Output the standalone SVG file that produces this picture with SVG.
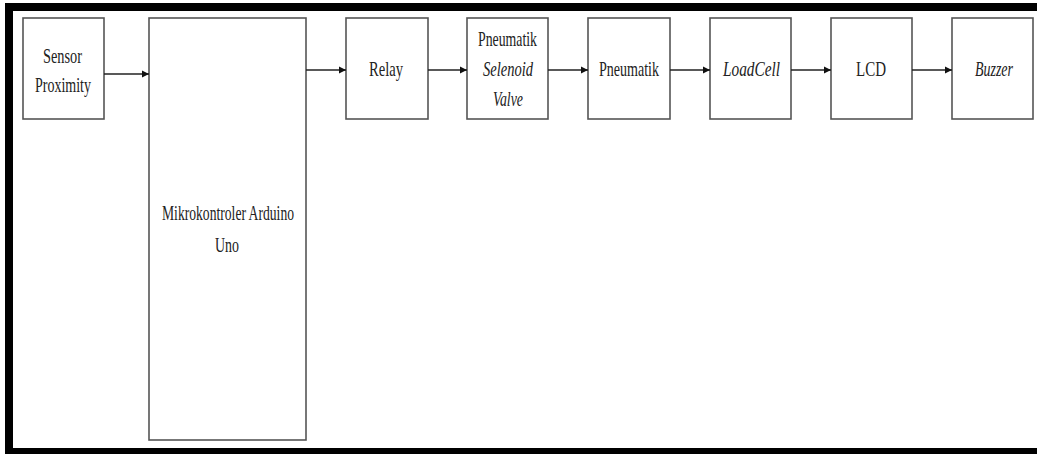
<svg xmlns="http://www.w3.org/2000/svg" width="1037" height="454" viewBox="0 0 1037 454">
<style>
.box{fill:#fff;stroke:#555;stroke-width:1.6}
.t{font-family:"Liberation Serif","DejaVu Serif","Times New Roman",serif;font-size:21px;fill:#222}
.i{font-style:italic}
.c{stroke:#222;stroke-width:1.6;fill:none}
</style>
<defs>
<marker id="ah" markerWidth="8" markerHeight="8" refX="7" refY="4" orient="auto" markerUnits="userSpaceOnUse">
<path d="M0,0.5 L7,4 L0,7.5 Z" fill="#111"/>
</marker>
</defs>
<rect x="0" y="0" width="1037" height="454" fill="#fff"/>
<g id="frame">
<rect x="5" y="3" width="1032" height="8" fill="#000"/>
<rect x="5" y="3" width="8" height="451" fill="#000"/>
<rect x="5" y="448" width="1032" height="6" fill="#000"/>
</g>
<g id="sensor">
<rect class="box" x="23" y="18" width="81" height="101"/>
<text class="t" font-family="Liberation Serif, serif" x="43" y="63" textLength="39" lengthAdjust="spacingAndGlyphs">Sensor</text>
<text class="t" font-family="Liberation Serif, serif" x="35" y="92" textLength="56" lengthAdjust="spacingAndGlyphs">Proximity</text>
</g>
<g id="mikro">
<rect class="box" x="149" y="18" width="157" height="422"/>
<text class="t" x="162" y="220" textLength="132" lengthAdjust="spacingAndGlyphs">Mikrokontroler Arduino</text>
<text class="t" x="215" y="252" textLength="24" lengthAdjust="spacingAndGlyphs">Uno</text>
</g>
<g id="relay">
<rect class="box" x="346" y="18" width="82" height="101"/>
<text class="t" x="369" y="76" textLength="34" lengthAdjust="spacingAndGlyphs">Relay</text>
</g>
<g id="selenoid">
<rect class="box" x="467" y="18" width="81" height="101"/>
<text class="t" x="478" y="46" textLength="59" lengthAdjust="spacingAndGlyphs">Pneumatik</text>
<text class="t i" x="483" y="76" textLength="50" lengthAdjust="spacingAndGlyphs">Selenoid</text>
<text class="t i" x="493" y="106" textLength="30" lengthAdjust="spacingAndGlyphs">Valve</text>
</g>
<g id="pneumatik">
<rect class="box" x="588" y="18" width="82" height="101"/>
<text class="t" x="599" y="76" textLength="60" lengthAdjust="spacingAndGlyphs">Pneumatik</text>
</g>
<g id="loadcell">
<rect class="box" x="710" y="18" width="81" height="101"/>
<text class="t i" x="723" y="76" textLength="57" lengthAdjust="spacingAndGlyphs">LoadCell</text>
</g>
<g id="lcd">
<rect class="box" x="831" y="18" width="81" height="101"/>
<text class="t" x="856" y="76" textLength="30" lengthAdjust="spacingAndGlyphs">LCD</text>
</g>
<g id="buzzer">
<rect class="box" x="952" y="18" width="81" height="101"/>
<text class="t i" x="975" y="76" textLength="38" lengthAdjust="spacingAndGlyphs">Buzzer</text>
</g>
<g id="connectors">
<line class="c" x1="104" y1="74" x2="149" y2="74" marker-end="url(#ah)"/>
<line class="c" x1="306" y1="70" x2="346" y2="70" marker-end="url(#ah)"/>
<line class="c" x1="428" y1="70" x2="467" y2="70" marker-end="url(#ah)"/>
<line class="c" x1="548" y1="70" x2="588" y2="70" marker-end="url(#ah)"/>
<line class="c" x1="670" y1="70" x2="710" y2="70" marker-end="url(#ah)"/>
<line class="c" x1="791" y1="70" x2="831" y2="70" marker-end="url(#ah)"/>
<line class="c" x1="912" y1="70" x2="952" y2="70" marker-end="url(#ah)"/>
</g>
</svg>
